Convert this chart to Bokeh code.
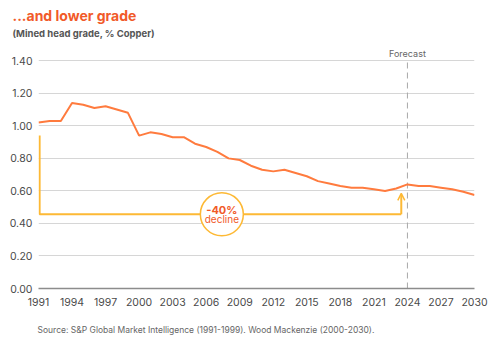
from bokeh.plotting import figure
from bokeh.models import Range1d, FixedTicker, NumeralTickFormatter, Label, Arrow, OpenHead, Title
from bokeh.embed import file_html
from bokeh.resources import INLINE

years = list(range(1991, 2031))
grade = [1.02, 1.03, 1.03, 1.14, 1.13, 1.11, 1.12, 1.10, 1.08, 0.94,
         0.96, 0.95, 0.93, 0.93, 0.89, 0.87, 0.84, 0.80, 0.79, 0.755,
         0.73, 0.72, 0.73, 0.71, 0.69, 0.66, 0.645, 0.63, 0.62, 0.62,
         0.61, 0.60, 0.615, 0.64, 0.63, 0.63, 0.62, 0.61, 0.595, 0.575]
x_ticks = list(range(1991, 2031, 3))
y_ticks = [0.0, 0.2, 0.4, 0.6, 0.8, 1.0, 1.2, 1.4]
forecast_year = 2024

# annotation (bracket) values
bracket_x = [1991.1, 1991.1, 2023.45]
bracket_y = [0.94, 0.456, 0.456]
arrow_x = 2023.45
arrow_y = [0.456, 0.585]
circle_x = [2007.4]
circle_y = [0.456]

ORANGE = "#FF7B3E"
RED = "#F15A29"
YELLOW = "#FDB935"
FONT = "Inter"

p = figure(width=498, height=351, output_backend="svg", toolbar_location=None,
           x_range=Range1d(1991, 2030), y_range=Range1d(0, 1.5),
           min_border_top=44, min_border_bottom=63, min_border_left=38, min_border_right=24)
p.outline_line_color = None
p.background_fill_color = "white"
p.border_fill_color = "white"

p.xaxis.ticker = FixedTicker(ticks=x_ticks)
p.yaxis.ticker = FixedTicker(ticks=y_ticks)
p.yaxis.formatter = NumeralTickFormatter(format="0.00")
for ax in (p.xaxis[0], p.yaxis[0]):
    ax.major_tick_line_color = None
    ax.minor_tick_line_color = None
    ax.major_label_text_font = FONT
    ax.major_label_text_font_size = "10.5px"
    ax.major_label_text_color = "#4a4a4a"
p.yaxis.axis_line_color = None
p.xaxis.axis_line_color = "#8c8c8c"
p.xaxis.axis_line_width = 1.5
p.xaxis.major_label_standoff = 3
p.yaxis.major_label_standoff = 0
p.xgrid.grid_line_color = None
p.ygrid.grid_line_color = "#d6d6d6"
p.ygrid.grid_line_width = 1

# forecast divider
p.segment(x0=[forecast_year], y0=[0], x1=[forecast_year], y1=[1.4],
          line_color="#a8a8a8", line_dash="6 4", line_width=1)

# bracket
p.line(bracket_x, bracket_y, line_color=YELLOW, line_width=2)
p.add_layout(Arrow(end=OpenHead(size=7, line_color=YELLOW, line_width=1.5),
                   x_start=arrow_x, y_start=arrow_y[0], x_end=arrow_x, y_end=arrow_y[1],
                   line_color=YELLOW, line_width=2))

# main series
p.line(years, grade, line_color=ORANGE, line_width=2)

# circle callout
p.scatter(circle_x, circle_y, marker="circle", size=43, fill_color="white",
          line_color=YELLOW, line_width=1.5)
p.add_layout(Label(x=circle_x[0], y=circle_y[0], text="-40%", text_font=FONT,
                   text_font_size="11px", text_font_style="bold", text_color=RED,
                   text_align="center", text_baseline="middle", y_offset=4))
p.add_layout(Label(x=circle_x[0], y=circle_y[0], text="decline", text_font=FONT,
                   text_font_size="10px", text_color=RED, text_align="center",
                   text_baseline="middle", y_offset=-5))

p.add_layout(Label(x=forecast_year, y=1.447, text="Forecast", text_font=FONT,
                   text_font_size="9px", text_color="#666666", text_align="center",
                   text_baseline="middle"))

# titles
p.add_layout(Title(text="(Mined head grade, % Copper)", text_font=FONT, text_font_size="9.5px",
                   text_font_style="bold", text_color="#555555", align="left",
                   vertical_align="top", offset=-26, standoff=8), "above")
p.add_layout(Title(text="...and lower grade", text_font=FONT, text_font_size="14px",
                   text_font_style="bold", text_color=RED, align="left",
                   vertical_align="bottom", offset=-26, standoff=0), "above")
p.add_layout(Title(text="Source: S&P Global Market Intelligence (1991-1999). Wood Mackenzie (2000-2030).",
                   text_font=FONT, text_font_size="8.5px", text_font_style="normal",
                   text_color="#666666", align="left", offset=-1, standoff=28), "below")

open("out.html", "w").write(file_html(p, INLINE))
